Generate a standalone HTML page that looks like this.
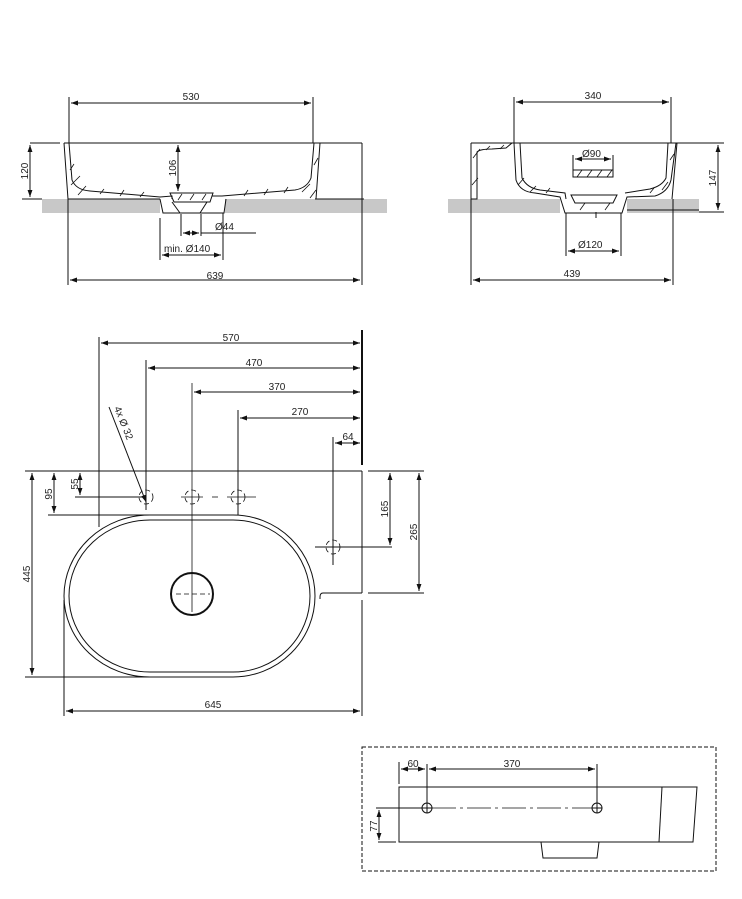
<!DOCTYPE html>
<html><head><meta charset="utf-8"><style>
body{margin:0;background:#fff}
svg{display:block}
text{font-family:"Liberation Sans",sans-serif;font-size:10px;fill:#222}
</style></head><body>
<svg width="742" height="899" viewBox="0 0 742 899" xmlns="http://www.w3.org/2000/svg">
<defs>
<marker id="a" viewBox="0 0 10 10" refX="10" refY="5" markerWidth="7" markerHeight="7" orient="auto-start-reverse"><path d="M0,1.5 L10,5 L0,8.5 z" fill="#111"/></marker>
</defs>
<g stroke="#111" stroke-width="1" fill="none">
<!-- ===== Top-left section view ===== -->
<rect x="42" y="199" width="118" height="14" fill="#c8c8c8" stroke="none"/>
<rect x="225" y="199" width="162" height="14" fill="#c8c8c8" stroke="none"/>
<line x1="30" y1="143" x2="60" y2="143"/>
<line x1="64" y1="143" x2="362" y2="143"/>
<line x1="362" y1="143" x2="362" y2="199"/>
<line x1="315" y1="199" x2="364" y2="199"/>
<path d="M64,143 L68,199 L160,199 M69,143 L72,180 Q76,190 90,191 L160,197 L172,196 L172,199"/>
<path d="M320,143 L316,199 M314,143 L311,178 Q307,188 295,190 L222,196 L212,196"/>
<path d="M160,199 L163,213 L224,213 L226,199"/>
<path d="M170,193 L213,193 L210,202 L174,202 z"/>
<path d="M172,202 L180,213 M207,202 L200,213"/>
<g stroke-width="0.8">
<path d="M70,170 L74,164 M71,185 L80,176 M78,195 L86,186 M100,194 L104,189 M120,196 L124,190 M140,197 L144,192 M244,196 L248,190 M264,195 L268,189 M284,193 L288,187 M302,192 L310,184 M310,198 L316,190 M314,165 L318,158 M178,200 L182,194 M190,200 L194,194 M202,200 L206,194"/>
</g>
<line x1="69" y1="97" x2="69" y2="143"/><line x1="313" y1="97" x2="313" y2="143"/>
<line x1="71" y1="103" x2="311" y2="103" marker-start="url(#a)" marker-end="url(#a)"/>
<line x1="30" y1="145" x2="30" y2="197" marker-start="url(#a)" marker-end="url(#a)"/>
<line x1="22" y1="199" x2="42" y2="199"/>
<line x1="178" y1="145" x2="178" y2="191" marker-start="url(#a)" marker-end="url(#a)"/>
<line x1="68" y1="199" x2="68" y2="285"/><line x1="362" y1="199" x2="362" y2="285"/>
<line x1="70" y1="280" x2="360" y2="280" marker-start="url(#a)" marker-end="url(#a)"/>
<line x1="160" y1="218" x2="160" y2="260"/><line x1="223" y1="213" x2="223" y2="260"/>
<line x1="162" y1="255" x2="221" y2="255" marker-start="url(#a)" marker-end="url(#a)"/>
<line x1="181" y1="214" x2="181" y2="236"/><line x1="201" y1="214" x2="201" y2="236"/>
<line x1="183" y1="233" x2="199" y2="233" marker-start="url(#a)" marker-end="url(#a)"/>
<line x1="201" y1="233" x2="256" y2="233"/>

<!-- ===== Top-right section view ===== -->
<rect x="448" y="199" width="112" height="14" fill="#c8c8c8" stroke="none"/>
<rect x="627" y="199" width="72" height="14" fill="#c8c8c8" stroke="none"/>
<path d="M471,143 L677,143 L672,199 M471,143 L471,199 L477,199 L477,152 Q480,149 492,149 L506,148 L512,143"/>
<path d="M514,143 L516,180 Q520,192 535,193 L560,197 L565,213 L622,213 L627,197 L655,196 Q668,192 671,180 L676,143"/>
<path d="M520,143 L522,178 Q527,188 540,190 L565,193 L566,199 M668,143 L666,178 Q662,186 650,189 L625,193"/>
<path d="M571,195 L617,195 L613,203 L575,203 z"/>
<line x1="596" y1="212" x2="596" y2="218"/>
<line x1="627" y1="210" x2="699" y2="210"/>
<g stroke-width="0.8">
<path d="M473,158 L480,149 M472,185 L478,178 M486,150 L490,146 M500,149 L504,145 M518,185 L524,178 M530,192 L536,186 M546,193 L550,188 M650,193 L654,188 M662,190 L668,182 M670,160 L674,154 M580,210 L585,203 M605,210 L610,203"/>
</g>
<rect x="573" y="170" width="40" height="7"/>
<g stroke-width="0.8"><path d="M577,177 L582,170 M587,177 L592,170 M597,177 L602,170 M607,177 L612,170"/></g>
<line x1="514" y1="97" x2="514" y2="143"/><line x1="671" y1="97" x2="671" y2="143"/>
<line x1="516" y1="102" x2="669" y2="102" marker-start="url(#a)" marker-end="url(#a)"/>
<line x1="573" y1="155" x2="573" y2="170"/><line x1="613" y1="155" x2="613" y2="170"/>
<line x1="575" y1="159" x2="611" y2="159" marker-start="url(#a)" marker-end="url(#a)"/>
<line x1="677" y1="143" x2="724" y2="143"/><line x1="699" y1="212" x2="724" y2="212"/>
<line x1="718" y1="145" x2="718" y2="210" marker-start="url(#a)" marker-end="url(#a)"/>
<line x1="566" y1="213" x2="566" y2="256"/><line x1="621" y1="213" x2="621" y2="256"/>
<line x1="568" y1="251" x2="619" y2="251" marker-start="url(#a)" marker-end="url(#a)"/>
<line x1="471" y1="199" x2="471" y2="285"/><line x1="673" y1="199" x2="673" y2="285"/>
<line x1="473" y1="280" x2="671" y2="280" marker-start="url(#a)" marker-end="url(#a)"/>

<!-- ===== Plan view ===== -->
<line x1="25" y1="471" x2="362" y2="471"/>
<line x1="368" y1="471" x2="424" y2="471"/>
<line x1="99" y1="471" x2="99" y2="527"/>
<line x1="362" y1="471" x2="362" y2="593"/>
<path d="M362,593 L323,593 Q320,593 320,597 L320,599"/>
<line x1="368" y1="593" x2="424" y2="593"/>
<path d="M150,515 L233,515 A82,81 0 0 1 315,596 A82,81 0 0 1 233,677 L150,677 A86,81 0 0 1 64,596 A86,81 0 0 1 150,515 z"/>
<path d="M150,520 L233,520 A77,76 0 0 1 310,596 A77,76 0 0 1 233,672 L150,672 A81,76 0 0 1 69,596 A81,76 0 0 1 150,520 z"/>
<circle cx="192" cy="594" r="21" stroke-width="2"/>
<g stroke-dasharray="5,3" stroke-width="0.8">
<line x1="176" y1="594" x2="210" y2="594"/>
<circle cx="146" cy="497" r="7"/><circle cx="192" cy="497" r="7"/><circle cx="238" cy="497" r="7"/><circle cx="333" cy="547" r="7"/>
</g>
<line x1="192" y1="383" x2="192" y2="612" stroke-width="0.8"/>
<line x1="181" y1="497" x2="203" y2="497" stroke-width="0.8"/>
<line x1="212" y1="497" x2="218" y2="497" stroke-width="0.8"/>
<line x1="227" y1="497" x2="256" y2="497" stroke-width="0.8"/>
<line x1="238" y1="410" x2="238" y2="515"/>
<line x1="146" y1="360" x2="146" y2="510"/>
<line x1="333" y1="437" x2="333" y2="565"/>
<line x1="315" y1="547" x2="392" y2="547"/>
<line x1="75" y1="497" x2="146" y2="497"/>
<line x1="48" y1="515" x2="150" y2="515"/>
<line x1="99" y1="337" x2="99" y2="471"/>
<line x1="362" y1="330" x2="362" y2="465" stroke-width="2"/>
<line x1="101" y1="343" x2="360" y2="343" marker-start="url(#a)" marker-end="url(#a)"/>
<line x1="148" y1="368" x2="360" y2="368" marker-start="url(#a)" marker-end="url(#a)"/>
<line x1="194" y1="392" x2="360" y2="392" marker-start="url(#a)" marker-end="url(#a)"/>
<line x1="240" y1="418" x2="360" y2="418" marker-start="url(#a)" marker-end="url(#a)"/>
<line x1="335" y1="443" x2="360" y2="443" marker-start="url(#a)" marker-end="url(#a)"/>
<line x1="109" y1="407" x2="146" y2="502" marker-end="url(#a)"/>
<line x1="32" y1="473" x2="32" y2="675" marker-start="url(#a)" marker-end="url(#a)"/>
<line x1="25" y1="677" x2="150" y2="677"/>
<line x1="54" y1="473" x2="54" y2="513" marker-start="url(#a)" marker-end="url(#a)"/>
<line x1="80" y1="473" x2="80" y2="495" marker-start="url(#a)" marker-end="url(#a)"/>
<line x1="390" y1="473" x2="390" y2="545" marker-start="url(#a)" marker-end="url(#a)"/>
<line x1="419" y1="473" x2="419" y2="591" marker-start="url(#a)" marker-end="url(#a)"/>
<line x1="64" y1="600" x2="64" y2="716"/><line x1="362" y1="600" x2="362" y2="716"/>
<line x1="66" y1="711" x2="360" y2="711" marker-start="url(#a)" marker-end="url(#a)"/>

<!-- ===== Bottom elevation ===== -->
<rect x="362" y="747" width="354" height="124" stroke-dasharray="4,2"/>
<path d="M399,787 L697,787 L693,842 L399,842 z"/>
<line x1="662" y1="787" x2="659" y2="842"/>
<path d="M541,842 L543,858 L597,858 L599,842"/>
<circle cx="427" cy="808" r="5"/><circle cx="597" cy="808" r="5"/>
<line x1="422" y1="808" x2="432" y2="808"/><line x1="592" y1="808" x2="602" y2="808"/>
<line x1="427" y1="803" x2="427" y2="813"/><line x1="597" y1="803" x2="597" y2="813"/>
<line x1="376" y1="808" x2="422" y2="808"/>
<line x1="432" y1="808" x2="592" y2="808" stroke-dasharray="24,4,3,4" stroke-width="0.8"/>
<line x1="399" y1="762" x2="399" y2="784"/>
<line x1="427" y1="764" x2="427" y2="803"/><line x1="597" y1="764" x2="597" y2="803"/>
<line x1="401" y1="769" x2="425" y2="769" marker-start="url(#a)" marker-end="url(#a)"/>
<line x1="429" y1="769" x2="595" y2="769" marker-start="url(#a)" marker-end="url(#a)"/>
<line x1="378" y1="842" x2="396" y2="842"/>
<line x1="379" y1="810" x2="379" y2="840" marker-start="url(#a)" marker-end="url(#a)"/>
</g>
<text x="191" y="100" text-anchor="middle">530</text>
<text x="215" y="279" text-anchor="middle">639</text>
<text x="215" y="230">Ø44</text>
<text x="164" y="252">min. Ø140</text>
<text transform="translate(28,171) rotate(-90)" text-anchor="middle">120</text>
<text transform="translate(176,168) rotate(-90)" text-anchor="middle">106</text>
<text x="593" y="99" text-anchor="middle">340</text>
<text x="582" y="157">Ø90</text>
<text x="578" y="248">Ø120</text>
<text x="572" y="277" text-anchor="middle">439</text>
<text transform="translate(716,178) rotate(-90)" text-anchor="middle">147</text>
<text x="231" y="341" text-anchor="middle">570</text>
<text x="254" y="366" text-anchor="middle">470</text>
<text x="277" y="390" text-anchor="middle">370</text>
<text x="300" y="415" text-anchor="middle">270</text>
<text x="348" y="440" text-anchor="middle">64</text>
<text transform="translate(114,408) rotate(68)">4x Ø 32</text>
<text transform="translate(30,574) rotate(-90)" text-anchor="middle">445</text>
<text transform="translate(52,494) rotate(-90)" text-anchor="middle">95</text>
<text transform="translate(78,484) rotate(-90)" text-anchor="middle">55</text>
<text transform="translate(388,509) rotate(-90)" text-anchor="middle">165</text>
<text transform="translate(417,532) rotate(-90)" text-anchor="middle">265</text>
<text x="213" y="708" text-anchor="middle">645</text>
<text x="413" y="767" text-anchor="middle">60</text>
<text x="512" y="767" text-anchor="middle">370</text>
<text transform="translate(377,826) rotate(-90)" text-anchor="middle">77</text>
</svg>
</body></html>
